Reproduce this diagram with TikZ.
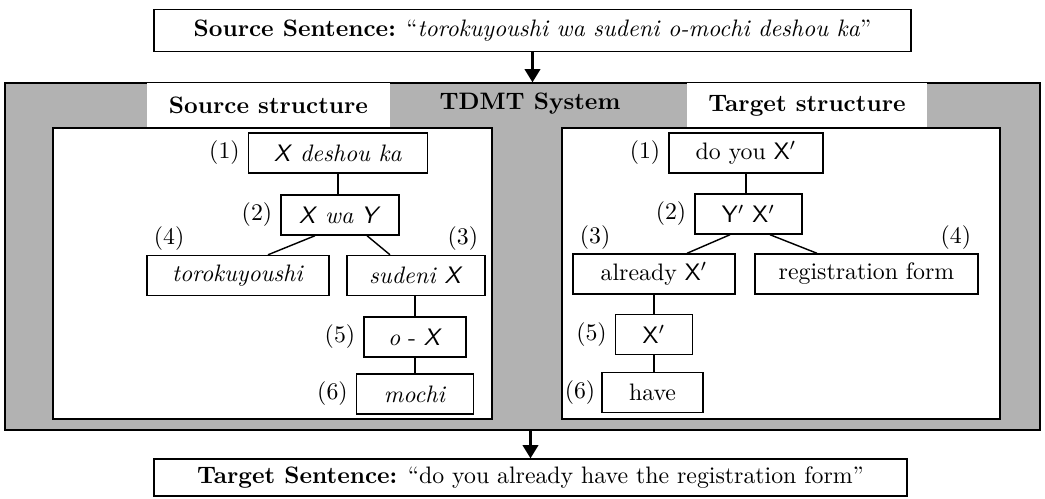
\documentclass[tikz,border=0pt]{standalone}
\usetikzlibrary{positioning,calc,arrows.meta}
\begin{document}
\begin{tikzpicture}[x=0.42pt,y=-0.42pt,
    every node/.style={inner sep=0pt},
    tbox/.style={draw,line width=0.6pt,fill=white,minimum height=40*0.42pt},
    num/.style={inner sep=1.5pt},
    sent/.style={draw,line width=0.6pt,fill=white},
    tab/.style={fill=white,font=\bfseries,minimum height=45*0.42pt},
    panel/.style={draw,line width=0.6pt,fill=white},
    flow/.style={line width=0.9pt,-{Triangle[length=5.5pt,width=6.5pt]}}]
  \useasboundingbox (0,0) rectangle (1045,498);
  % sentences
  \node[sent,minimum width=757*0.42pt,minimum height=42*0.42pt] (src) at (532.5,30.5)
    {\textbf{Source Sentence:} ``\textit{torokuyoushi wa sudeni o-mochi deshou ka}''};
  \node[sent,minimum width=753*0.42pt,minimum height=37*0.42pt] (tgt) at (530.5,477.5)
    {\textbf{Target Sentence:} ``do you already have the registration form''};
  % system
  \node[draw,line width=0.6pt,fill=black!30,minimum width=1035*0.42pt,
    minimum height=347*0.42pt] (sys) at (522.5,256.5) {};
  \node[tab,minimum width=243*0.42pt] (stab) at (268.5,105.5) {Source structure};
  \node[tab,minimum width=240*0.42pt] (ttab) at (807,105.5) {Target structure};
  \node[font=\bfseries] (tdmt) at (530,104) {TDMT System};
  \node[panel,minimum width=439*0.42pt,minimum height=291*0.42pt] (spanel) at (272.5,273.5) {};
  \node[panel,minimum width=438*0.42pt,minimum height=291*0.42pt] (tpanel) at (781,273.5) {};
  \draw[flow] (src.south) -- (src.south |- sys.north);
  \draw[flow] (sys.south -| tgt.north) -- (tgt.north);
  % source tree
  \node[tbox,minimum width=179*0.42pt] (s1) at (338,153) {\textsf{\slshape X} \textit{deshou ka}};
  \node[tbox,minimum width=118*0.42pt] (s2) at (340,215) {\textsf{\slshape X} \textit{wa} \textsf{\slshape Y}};
  \node[tbox,minimum width=182*0.42pt] (s4) at (238,275.5) {\textit{torokuyoushi}};
  \node[tbox,minimum width=138*0.42pt] (s3) at (416,275.5) {\textit{sudeni} \textsf{\slshape X}};
  \node[tbox,minimum width=102*0.42pt] (s5) at (415,337) {\textit{o} - \textsf{\slshape X}};
  \node[tbox,minimum width=117*0.42pt] (s6) at (415,394) {\textit{mochi}};
  \node[num,left=0.6mm of s1] {(1)};
  \node[num,left=0.6mm of s2] {(2)};
  \node[num,above left=0pt and 1.5pt of s3.north east] {(3)};
  \node[num,above right=0pt and 1.5pt of s4.north west] {(4)};
  \node[num,left=0.6mm of s5] {(5)};
  \node[num,left=0.6mm of s6] {(6)};
  \draw[line width=0.6pt] (s1.south) -- (s1.south |- s2.north);
  \draw[line width=0.6pt] ($(s2.south)+(-25,0)$) -- ($(s4.north)+(30,0)$);
  \draw[line width=0.6pt] ($(s2.south)+(27,0)$) -- ($(s3.north)+(-26,0)$);
  \draw[line width=0.6pt] (s3.south -| s5) -- (s5) -- (s6);
  % target tree
  \node[tbox,minimum width=154*0.42pt] (t1) at (746,153) {do you \textsf{X}$'$};
  \node[tbox,minimum width=107*0.42pt] (t2) at (748.5,214) {\textsf{Y}$'$ \textsf{X}$'$};
  \node[tbox,minimum width=162*0.42pt] (t3) at (654,274) {already \textsf{X}$'$};
  \node[tbox,minimum width=223*0.42pt] (t4) at (866.5,274) {registration form};
  \node[tbox,minimum width=77*0.42pt] (t5) at (654,334.5) {\textsf{X}$'$};
  \node[tbox,minimum width=101*0.42pt] (t6) at (652.5,392.5) {have};
  \node[num,left=0.6mm of t1] {(1)};
  \node[num,left=0.6mm of t2] {(2)};
  \node[num,above right=0pt and 1.5pt of t3.north west] {(3)};
  \node[num,above left=0pt and 1.5pt of t4.north east] {(4)};
  \node[num,left=0.6mm of t5] {(5)};
  \node[num,left=0.3mm of t6] {(6)};
  \draw[line width=0.6pt] (t1.south) -- (t1.south |- t2.north);
  \draw[line width=0.6pt] ($(t2.south)+(-18.5,0)$) -- ($(t3.north)+(33,0)$);
  \draw[line width=0.6pt] ($(t2.south)+(21.5,0)$) -- ($(t4.north)+(-49.5,0)$);
  \draw[line width=0.6pt] (t3) -- (t5);
  \draw[line width=0.6pt] (t5.south) -- (t5.south |- t6.north);
\end{tikzpicture}
\end{document}
